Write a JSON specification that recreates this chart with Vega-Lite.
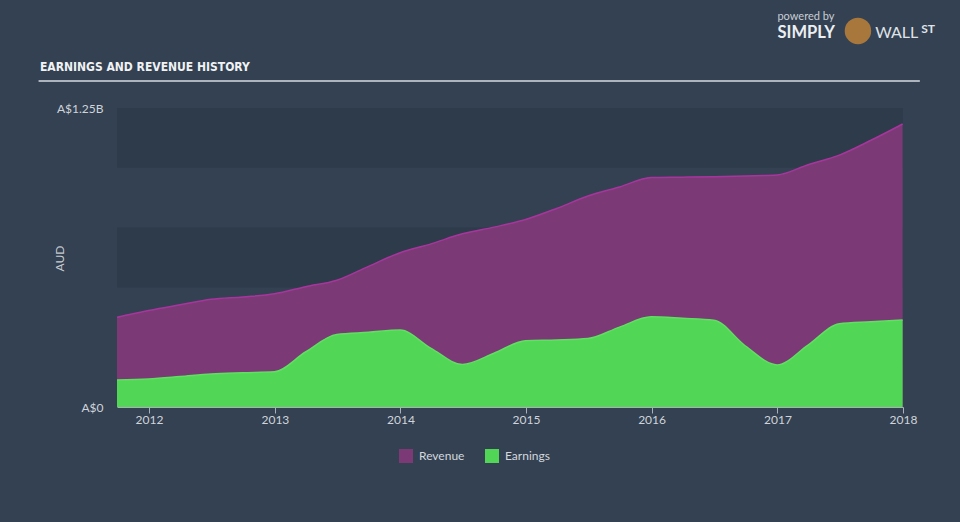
{
  "$schema": "https://vega.github.io/schema/vega-lite/v6.json",
  "width": 786,
  "height": 299,
  "autosize": {"type": "none"},
  "padding": {"left": 117, "top": 108, "right": 57, "bottom": 115},
  "background": "#334152",
  "datasets": {
    "history": [
      {"date": "2011-09-30", "series": "Revenue", "value": 375000000},
      {"date": "2011-12-31", "series": "Revenue", "value": 403000000},
      {"date": "2012-03-31", "series": "Revenue", "value": 427000000},
      {"date": "2012-06-30", "series": "Revenue", "value": 450000000},
      {"date": "2012-09-30", "series": "Revenue", "value": 460000000},
      {"date": "2012-12-31", "series": "Revenue", "value": 473000000},
      {"date": "2013-03-31", "series": "Revenue", "value": 503000000},
      {"date": "2013-06-30", "series": "Revenue", "value": 530000000},
      {"date": "2013-09-30", "series": "Revenue", "value": 588000000},
      {"date": "2013-12-31", "series": "Revenue", "value": 645000000},
      {"date": "2014-03-31", "series": "Revenue", "value": 682000000},
      {"date": "2014-06-30", "series": "Revenue", "value": 724000000},
      {"date": "2014-09-30", "series": "Revenue", "value": 752000000},
      {"date": "2014-12-31", "series": "Revenue", "value": 784000000},
      {"date": "2015-03-31", "series": "Revenue", "value": 830000000},
      {"date": "2015-06-30", "series": "Revenue", "value": 882000000},
      {"date": "2015-09-30", "series": "Revenue", "value": 920000000},
      {"date": "2015-12-31", "series": "Revenue", "value": 959000000},
      {"date": "2016-03-31", "series": "Revenue", "value": 961000000},
      {"date": "2016-06-30", "series": "Revenue", "value": 963000000},
      {"date": "2016-09-30", "series": "Revenue", "value": 966000000},
      {"date": "2016-12-31", "series": "Revenue", "value": 970000000},
      {"date": "2017-03-31", "series": "Revenue", "value": 1013000000},
      {"date": "2017-06-30", "series": "Revenue", "value": 1053000000},
      {"date": "2017-09-30", "series": "Revenue", "value": 1115000000},
      {"date": "2017-12-31", "series": "Revenue", "value": 1183000000},
      {"date": "2011-09-30", "series": "Earnings", "value": 113000000},
      {"date": "2011-12-31", "series": "Earnings", "value": 117000000},
      {"date": "2012-03-31", "series": "Earnings", "value": 127000000},
      {"date": "2012-06-30", "series": "Earnings", "value": 138000000},
      {"date": "2012-09-30", "series": "Earnings", "value": 143000000},
      {"date": "2012-12-31", "series": "Earnings", "value": 147000000},
      {"date": "2013-03-31", "series": "Earnings", "value": 230000000},
      {"date": "2013-06-30", "series": "Earnings", "value": 303000000},
      {"date": "2013-09-30", "series": "Earnings", "value": 312000000},
      {"date": "2013-12-31", "series": "Earnings", "value": 322000000},
      {"date": "2014-03-31", "series": "Earnings", "value": 245000000},
      {"date": "2014-06-30", "series": "Earnings", "value": 178000000},
      {"date": "2014-09-30", "series": "Earnings", "value": 225000000},
      {"date": "2014-12-31", "series": "Earnings", "value": 277000000},
      {"date": "2015-03-31", "series": "Earnings", "value": 280000000},
      {"date": "2015-06-30", "series": "Earnings", "value": 286000000},
      {"date": "2015-09-30", "series": "Earnings", "value": 334000000},
      {"date": "2015-12-31", "series": "Earnings", "value": 377000000},
      {"date": "2016-03-31", "series": "Earnings", "value": 371000000},
      {"date": "2016-06-30", "series": "Earnings", "value": 363000000},
      {"date": "2016-09-30", "series": "Earnings", "value": 255000000},
      {"date": "2016-12-31", "series": "Earnings", "value": 176000000},
      {"date": "2017-03-31", "series": "Earnings", "value": 259000000},
      {"date": "2017-06-30", "series": "Earnings", "value": 348000000},
      {"date": "2017-09-30", "series": "Earnings", "value": 356000000},
      {"date": "2017-12-31", "series": "Earnings", "value": 364000000}
    ]
  },
  "layer": [
    {
      "data": {"values": [
        {"lo": 0, "hi": 250000000},
        {"lo": 500000000, "hi": 750000000},
        {"lo": 1000000000, "hi": 1250000000}
      ]},
      "mark": {"type": "rect", "color": "#2e3b4b"},
      "encoding": {
        "y": {"field": "lo", "type": "quantitative", "scale": {"domain": [0, 1250000000], "nice": false}, "axis": {"values": [0, 1250000000], "labelExpr": "datum.value == 0 ? 'A$0' : 'A$1.25B'", "title": "AUD", "domain": false, "ticks": false, "grid": false, "labelPadding": 14, "labelFontSize": 12, "labelColor": "#d0d4da", "titleColor": "#c8ccd2", "titleFontSize": 12, "titleFontWeight": "normal", "titleX": -51, "titleY": 150}},
        "y2": {"field": "hi"}
      }
    },
    {
      "data": {"name": "history"},
      "transform": [{"filter": "datum.series == 'Revenue'"}],
      "mark": {"type": "area", "interpolate": "monotone", "opacity": 1},
      "encoding": {
        "x": {"field": "date", "type": "temporal", "scale": {"type": "utc", "domain": [{"year": 2011, "month": 9, "date": 30, "utc": true}, {"year": 2018, "month": 1, "date": 1, "utc": true}], "nice": false},
          "axis": {"title": null, "format": "%Y", "formatType": "utc", "grid": false, "values": [
            {"year": 2012, "month": 1, "date": 1, "utc": true},
            {"year": 2013, "month": 1, "date": 1, "utc": true},
            {"year": 2014, "month": 1, "date": 1, "utc": true},
            {"year": 2015, "month": 1, "date": 1, "utc": true},
            {"year": 2016, "month": 1, "date": 1, "utc": true},
            {"year": 2017, "month": 1, "date": 1, "utc": true},
            {"year": 2018, "month": 1, "date": 1, "utc": true}
          ], "domainColor": "#a9b0ba", "tickColor": "#a9b0ba", "tickSize": 6, "labelColor": "#d0d4da", "labelFontSize": 12, "labelPadding": 1, "labelFlush": false}},
        "y": {"field": "value", "type": "quantitative", "stack": null},
        "color": {"field": "series", "type": "nominal", "scale": {"domain": ["Revenue", "Earnings"], "range": ["#7b3a76", "#52d655"]},
          "legend": {"orient": "none", "legendX": 282, "legendY": 341, "direction": "horizontal", "title": null, "symbolType": "square", "symbolSize": 196, "symbolStrokeWidth": 0, "symbolOpacity": 1, "labelFontSize": 12, "labelColor": "#d4d8de", "columnPadding": 20, "labelOffset": 6, "padding": 0}}
      }
    },
    {
      "data": {"name": "history"},
      "transform": [{"filter": "datum.series == 'Revenue'"}],
      "mark": {"type": "line", "interpolate": "monotone", "color": "#a8359d", "strokeWidth": 1.5},
      "encoding": {
        "x": {"field": "date", "type": "temporal"},
        "y": {"field": "value", "type": "quantitative"}
      }
    },
    {
      "data": {"name": "history"},
      "transform": [{"filter": "datum.series == 'Earnings'"}],
      "mark": {"type": "area", "interpolate": "monotone", "opacity": 1},
      "encoding": {
        "x": {"field": "date", "type": "temporal"},
        "y": {"field": "value", "type": "quantitative", "stack": null},
        "color": {"field": "series", "type": "nominal"}
      }
    },
    {
      "data": {"name": "history"},
      "transform": [{"filter": "datum.series == 'Earnings'"}],
      "mark": {"type": "line", "interpolate": "monotone", "color": "#5ee061", "strokeWidth": 1.5},
      "encoding": {
        "x": {"field": "date", "type": "temporal"},
        "y": {"field": "value", "type": "quantitative"}
      }
    },
    {
      "data": {"values": [{}]},
      "mark": {"type": "text", "text": "EARNINGS AND REVENUE HISTORY", "align": "left", "baseline": "middle", "font": "DejaVu Sans Condensed", "fontWeight": "bold", "fontSize": 12, "color": "#f0f2f4"},
      "encoding": {
        "x": {"datum": {"year": 2011, "month": 2, "date": 18, "utc": true}, "type": "temporal"},
        "y": {"datum": 1421000000, "type": "quantitative"}
      }
    },
    {
      "data": {"values": [{}]},
      "mark": {"type": "rule", "color": "#aeb4bd", "strokeWidth": 2},
      "encoding": {
        "x": {"datum": {"year": 2011, "month": 2, "date": 14, "utc": true}, "type": "temporal"},
        "x2": {"datum": {"year": 2018, "month": 2, "date": 19, "utc": true}},
        "y": {"datum": 1362900000, "type": "quantitative"}
      }
    },
    {
      "data": {"values": [{}]},
      "mark": {"type": "text", "text": "powered by", "align": "left", "baseline": "middle", "fontSize": 11, "color": "#c9ced4"},
      "encoding": {
        "x": {"datum": {"year": 2017, "month": 1, "date": 1, "utc": true}, "type": "temporal"},
        "y": {"datum": 1630000000, "type": "quantitative"}
      }
    },
    {
      "data": {"values": [{}]},
      "mark": {"type": "text", "text": "SIMPLY", "align": "left", "baseline": "middle", "fontSize": 16.5, "fontWeight": "bold", "color": "#eceff2"},
      "encoding": {
        "x": {"datum": {"year": 2017, "month": 1, "date": 1, "utc": true}, "type": "temporal"},
        "y": {"datum": 1563000000, "type": "quantitative"}
      }
    },
    {
      "data": {"values": [{}]},
      "mark": {"type": "point", "filled": true, "size": 700, "color": "#a8773c", "opacity": 1},
      "encoding": {
        "x": {"datum": {"year": 2017, "month": 8, "date": 23, "utc": true}, "type": "temporal"},
        "y": {"datum": 1572000000, "type": "quantitative"}
      }
    },
    {
      "data": {"values": [{}]},
      "mark": {"type": "text", "text": "WALL", "align": "left", "baseline": "middle", "fontSize": 16, "color": "#dfe3e7"},
      "encoding": {
        "x": {"datum": {"year": 2017, "month": 10, "date": 12, "utc": true}, "type": "temporal"},
        "y": {"datum": 1563000000, "type": "quantitative"}
      }
    },
    {
      "data": {"values": [{}]},
      "mark": {"type": "text", "text": "ST", "align": "left", "baseline": "middle", "fontSize": 12, "fontWeight": "bold", "color": "#dfe3e7"},
      "encoding": {
        "x": {"datum": {"year": 2018, "month": 2, "date": 23, "utc": true}, "type": "temporal"},
        "y": {"datum": 1580000000, "type": "quantitative"}
      }
    }
  ],
  "config": {
    "view": {"stroke": null},
    "font": "Lato"
  }
}
